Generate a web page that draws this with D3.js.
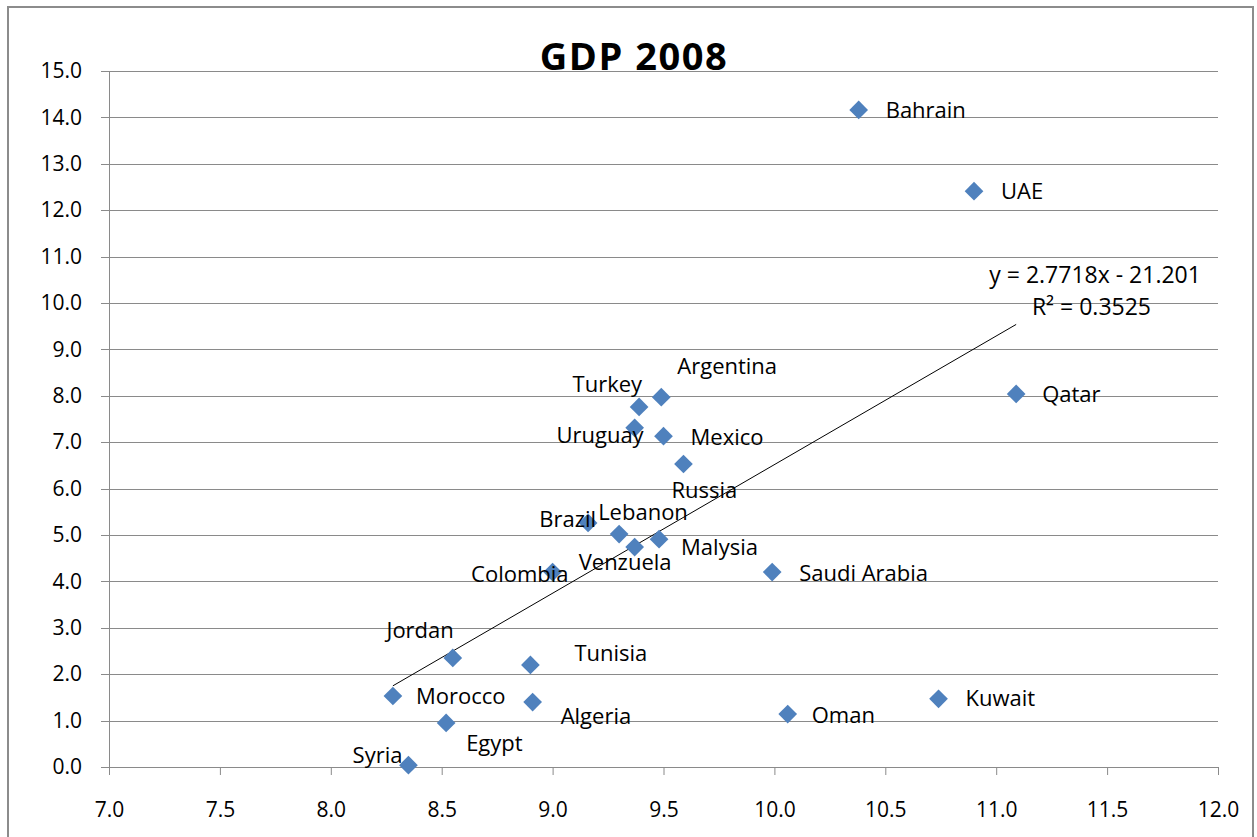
<!DOCTYPE html>
<html>
<head>
<meta charset="utf-8">
<script src="https://cdn.jsdelivr.net/npm/d3@7"></script>
<style>
  body { margin: 0; background: #fff; }
  text { font-family: "Open Sans", Lato, sans-serif; fill: #000; }
</style>
</head>
<body>
<div id="graf"></div>
<script>
// Datos
paises = ['Bahrain', 'UAE', 'Qatar', 'Argentina', 'Turkey', 'Uruguay', 'Mexico', 'Russia',
  'Brazil', 'Lebanon', 'Malysia', 'Venzuela', 'Colombia', 'Saudi Arabia', 'Jordan', 'Tunisia',
  'Morocco', 'Algeria', 'Egypt', 'Syria', 'Oman', 'Kuwait']
valoresX = [10.38, 10.90, 11.09, 9.49, 9.39, 9.37, 9.50, 9.59,
  9.16, 9.30, 9.48, 9.37, 9.00, 9.99, 8.55, 8.90,
  8.28, 8.91, 8.52, 8.35, 10.06, 10.74]
valoresY = [14.16, 12.41, 8.04, 7.97, 7.76, 7.31, 7.13, 6.53,
  5.26, 5.02, 4.91, 4.74, 4.20, 4.20, 2.35, 2.20,
  1.53, 1.40, 0.95, 0.04, 1.14, 1.47]
ticksX = [7.0, 7.5, 8.0, 8.5, 9.0, 9.5, 10.0, 10.5, 11.0, 11.5, 12.0]
ticksY = d3.range(0, 16, 1)
pendiente = 2.7718
intercepto = -21.201
r2 = 0.3525

// Posicion de etiquetas (dx, dy, anchor) relativa al punto
etiquetas = {
  'Bahrain': [27, 0, 'start'], 'UAE': [27, 0, 'start'], 'Qatar': [26, 0, 'start'],
  'Argentina': [16, -31, 'start'], 'Turkey': [3, -23, 'end'], 'Uruguay': [9, 7, 'end'],
  'Mexico': [27, 1, 'start'], 'Russia': [-12, 26, 'start'], 'Brazil': [8, -4, 'end'],
  'Lebanon': [-21, -22, 'start'], 'Malysia': [22, 8, 'start'], 'Venzuela': [-56, 15, 'start'],
  'Colombia': [16, 2, 'end'], 'Saudi Arabia': [27, 1, 'start'], 'Jordan': [1, -28, 'end'],
  'Tunisia': [44, -12, 'start'], 'Morocco': [23, 0, 'start'], 'Algeria': [28, 14, 'start'],
  'Egypt': [20, 20, 'start'], 'Syria': [-6, -10, 'end'], 'Oman': [24, 1, 'start'],
  'Kuwait': [27, 0, 'start']
}

datos = paises.map((p, i) => ({ pais: p, x: valoresX[i], y: valoresY[i] }))

// Configuracion
ancho_total = 1257
alto_total = 837
margins = { top: 71, left: 109, right: 39, bottom: 70 }
ancho = ancho_total - margins.left - margins.right
alto = alto_total - margins.top - margins.bottom

svg = d3.select('#graf').append('svg')
  .attr('width', ancho_total)
  .attr('height', alto_total)

svg.append('rect')
  .attr('x', 8).attr('y', 7)
  .attr('width', 1245).attr('height', 840)
  .attr('fill', '#fff')
  .attr('stroke', '#8c8c8c')
  .attr('stroke-width', 2)

g = svg.append('g')
  .attr('transform', `translate(${margins.left}, ${margins.top})`)

x = d3.scaleLinear().domain([7, 12]).range([0, ancho])
y = d3.scaleLinear().domain([0, 15]).range([alto, 0])

// Grid horizontal
g.append('g')
  .selectAll('line')
  .data(ticksY)
  .join('line')
  .attr('x1', -8).attr('x2', ancho)
  .attr('y1', d => Math.round(y(d)) + 0.5).attr('y2', d => Math.round(y(d)) + 0.5)
  .attr('stroke', '#8a8a8a')
  .attr('stroke-width', 1)

// Ejes
yAxisGroup = g.append('g')
  .call(d3.axisLeft(y).tickValues(ticksY).tickFormat(d3.format('.1f')).tickSize(0).tickPadding(27))
yAxisGroup.select('.domain').attr('stroke', '#8a8a8a')
yAxisGroup.selectAll('text').attr('font-size', 21).attr('fill', '#222')

xAxisGroup = g.append('g')
  .attr('transform', `translate(0, ${alto})`)
  .call(d3.axisBottom(x).tickValues(ticksX).tickFormat(d3.format('.1f')).tickSize(8).tickPadding(27))
xAxisGroup.select('.domain').attr('stroke', '#8a8a8a')
xAxisGroup.selectAll('line').attr('stroke', '#8a8a8a')
xAxisGroup.selectAll('text').attr('font-size', 21).attr('fill', '#222')

// Linea de tendencia
extX = d3.extent(valoresX)
g.append('line')
  .attr('x1', x(extX[0])).attr('y1', y(pendiente * extX[0] + intercepto))
  .attr('x2', x(extX[1])).attr('y2', y(pendiente * extX[1] + intercepto))
  .attr('stroke', '#000')
  .attr('stroke-width', 1)

// Puntos
g.selectAll('.punto')
  .data(datos)
  .join('path')
  .attr('class', 'punto')
  .attr('d', d3.symbol().type(d3.symbolSquare).size(175))
  .attr('transform', d => `translate(${x(d.x)}, ${y(d.y)}) rotate(45)`)
  .attr('fill', '#4f81bd')

// Etiquetas
g.selectAll('.etiqueta')
  .data(datos)
  .join('text')
  .attr('class', 'etiqueta')
  .attr('x', d => x(d.x) + etiquetas[d.pais][0])
  .attr('y', d => y(d.y) + etiquetas[d.pais][1])
  .attr('dy', '0.35em')
  .attr('text-anchor', d => etiquetas[d.pais][2])
  .attr('font-size', 22)
  .attr('fill', '#222')
  .text(d => d.pais)

// Ecuacion
g.append('text')
  .attr('x', x(11.923)).attr('y', y(10.6))
  .attr('dy', '0.35em')
  .attr('text-anchor', 'end')
  .attr('font-size', 23)
  .attr('fill', '#222')
  .text(`y = ${pendiente}x - ${-intercepto}`)
g.append('text')
  .attr('x', x(11.161)).attr('y', y(9.91))
  .attr('dy', '0.35em')
  .attr('text-anchor', 'start')
  .attr('font-size', 23)
  .attr('fill', '#222')
  .text(`R² = ${r2}`)

// Titulo
svg.append('text')
  .attr('x', 634).attr('y', 70)
  .attr('text-anchor', 'middle')
  .attr('font-size', 38)
  .attr('font-weight', 'bold')
  .attr('letter-spacing', 1.5)
  .attr('font-family', 'Lato, sans-serif')
  .text('GDP 2008')
</script>
</body>
</html>
